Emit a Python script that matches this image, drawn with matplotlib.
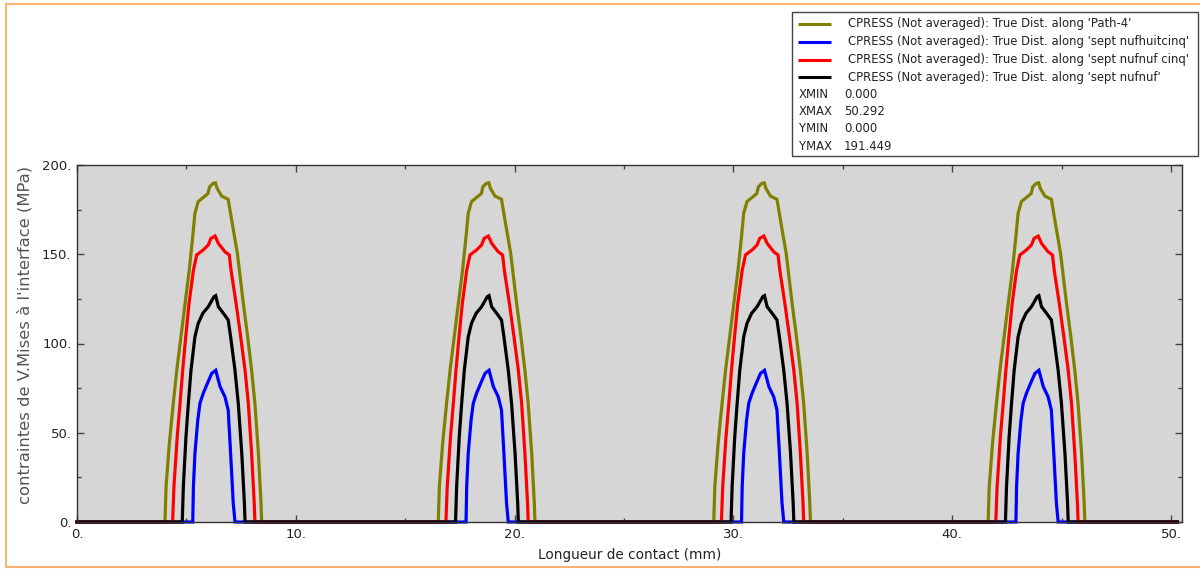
import matplotlib
matplotlib.use("Agg")
import matplotlib.pyplot as plt
import numpy as np
from matplotlib.patches import Rectangle
from matplotlib.lines import Line2D
from matplotlib.ticker import MultipleLocator, FuncFormatter

# Contact path: total length and the centres of the four contact zones (mm)
path_length = 50.292
zone_centres = [6.33, 18.82, 31.41, 43.95]

# Pressure profile of one contact zone per path: offset from zone centre (mm), pressure (MPa)
path4_offset = [-2.31, -2.26, -2.11, -1.93, -1.77, -1.58, -1.39, -1.20, -1.04, -0.94,
                -0.79, -0.48, -0.34, -0.27, -0.11, 0.00, 0.07, 0.28, 0.58, 0.74,
                1.00, 1.27, 1.47, 1.65, 1.80, 1.96, 2.08, 2.11]
path4_press = [0.0, 19.8, 44.0, 66.5, 85.0, 103.8, 122.5, 141.0, 160.0, 173.0,
               179.5, 182.6, 184.1, 187.8, 189.7, 190.0, 187.0, 182.6, 180.8, 169.0,
               150.5, 122.6, 103.8, 85.0, 66.5, 38.6, 10.6, 0.0]

s985_offset = [-1.04, -1.01, -0.94, -0.81, -0.71, -0.56, -0.37, -0.17, 0.01, 0.21,
               0.43, 0.58, 0.69, 0.81, 0.89]
s985_press = [0.0, 19.8, 38.5, 57.1, 66.5, 72.1, 77.7, 83.3, 85.0, 75.8,
              70.2, 62.7, 38.5, 10.6, 0.0]

s995_offset = [-1.96, -1.90, -1.75, -1.62, -1.50, -1.36, -1.21, -1.01, -0.86, -0.56,
               -0.33, -0.21, -0.02, 0.13, 0.43, 0.63, 0.71, 0.94, 1.15, 1.35,
               1.50, 1.65, 1.77, 1.80]
s995_press = [0.0, 19.8, 47.8, 66.5, 85.0, 103.8, 122.5, 141.0, 149.6, 152.4,
              155.2, 158.9, 160.2, 156.1, 151.4, 149.6, 141.0, 122.5, 103.8, 85.0,
              66.5, 38.5, 10.6, 0.0]

s99_offset = [-1.52, -1.47, -1.35, -1.24, -1.12, -0.94, -0.79, -0.58, -0.33, -0.07,
              0.01, 0.13, 0.36, 0.58, 0.69, 0.89, 1.04, 1.20, 1.32, 1.35]
s99_press = [0.0, 19.8, 47.8, 66.5, 85.0, 103.8, 111.3, 116.9, 120.6, 126.2,
             126.8, 120.6, 116.9, 113.2, 103.8, 85.0, 66.5, 38.5, 10.6, 0.0]

labels = [
    "CPRESS (Not averaged): True Dist. along 'Path-4'",
    "CPRESS (Not averaged): True Dist. along 'sept nufhuitcinq'",
    "CPRESS (Not averaged): True Dist. along 'sept nufnuf cinq'",
    "CPRESS (Not averaged): True Dist. along 'sept nufnuf'",
]
colors = ["#808000", "#0000ff", "#ff0000", "#000000"]
profiles = [(path4_offset, path4_press), (s985_offset, s985_press),
            (s995_offset, s995_press), (s99_offset, s99_press)]

info_keys = ["XMIN", "XMAX", "YMIN", "YMAX"]
info_vals = ["0.000", "50.292", "0.000", "191.449"]


def along_path(offsets, pressures):
    xs, ys = [0.0], [0.0]
    for c in zone_centres:
        xs.extend(c + np.asarray(offsets))
        ys.extend(pressures)
    xs.append(path_length)
    ys.append(0.0)
    return np.array(xs), np.array(ys)


W, H = 1200, 570
fig = plt.figure(figsize=(W / 100, H / 100), dpi=100)
fig.patch.set_facecolor("white")

ax = fig.add_axes([77 / W, 48 / H, 1105 / W, 357 / H])
ax.set_facecolor("#d6d6d6")

for (off, pr), col in zip(profiles, colors):
    x, y = along_path(off, pr)
    ax.plot(x, y, color=col, lw=2.3, clip_on=False, solid_joinstyle="miter")

ax.set_xlim(0, 50.5)
ax.set_ylim(0, 200)
ax.xaxis.set_major_locator(MultipleLocator(10))
ax.xaxis.set_minor_locator(MultipleLocator(5))
ax.yaxis.set_major_locator(MultipleLocator(50))
ax.yaxis.set_minor_locator(MultipleLocator(25))
fmt = FuncFormatter(lambda v, p: f"{v:.0f}.")
ax.xaxis.set_major_formatter(fmt)
ax.yaxis.set_major_formatter(fmt)
ax.tick_params(which="both", direction="in", top=True, right=True,
               color="#444444", labelcolor="#222222", labelsize=9.5)
ax.tick_params(which="major", length=5, width=1)
ax.tick_params(which="minor", length=3, width=1)
ax.tick_params(axis="x", pad=4)
ax.tick_params(axis="y", pad=4)
for sp in ax.spines.values():
    sp.set_color("#333333")
    sp.set_linewidth(1)

ax.set_xlabel("Longueur de contact (mm)", fontsize=9.8, color="#222222", labelpad=5)
ax.set_ylabel("contraintes de V.Mises à l'interface (MPa)", fontsize=11.8,
              color="#555555", va="center")
ax.yaxis.set_label_coords(-0.047, 0.524)

# Frame around the figure
border = "#f9b472"
fig.add_artist(Line2D([5.5 / W, 5.5 / W], [1 - 4 / H, 1 - 567 / H], color=border, lw=1.5))
fig.add_artist(Line2D([5.5 / W, 1.0], [1 - 4 / H, 1 - 4 / H], color=border, lw=1.5))
fig.add_artist(Line2D([5.5 / W, 1.0], [1 - 567 / H, 1 - 567 / H], color=border, lw=1.5))

# Legend box with curve keys and extent information
bx0, by0, bx1, by1 = 792, 12, 1198, 156
fig.add_artist(Rectangle((bx0 / W, 1 - by1 / H), (bx1 - bx0) / W, (by1 - by0) / H,
                         facecolor="white", edgecolor="#444444", lw=1))
row_y = [23.5, 41.5, 59.5, 77.0]
for lab, col, ry in zip(labels, colors, row_y):
    fig.add_artist(Line2D([798 / W, 831 / W], [1 - ry / H, 1 - ry / H], color=col, lw=2.2,
                          solid_capstyle="butt"))
    fig.text(848 / W, 1 - ry / H, lab, fontsize=8.4, color="#222222", va="center", ha="left")
info_y = [95, 112, 128.5, 146]
for k, v, ry in zip(info_keys, info_vals, info_y):
    fig.text(799 / W, 1 - ry / H, k, fontsize=8.4, color="#222222", va="center", ha="left")
    fig.text(844 / W, 1 - ry / H, v, fontsize=8.4, color="#222222", va="center", ha="left")

fig.savefig("out.png", dpi=100)
